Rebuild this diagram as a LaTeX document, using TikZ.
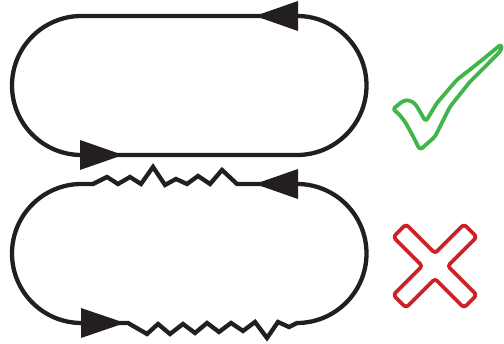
\documentclass[tikz,border=0pt]{standalone}
\usepackage{xcolor}
\usepackage{tikz}
\definecolor{ink}{RGB}{35,31,32}
\definecolor{okgreen}{RGB}{64,181,73}
\definecolor{badred}{RGB}{205,32,39}

\begin{document}
\begin{tikzpicture}[x=1pt, y=1pt,
  loopline/.style={draw=ink, line width=4.3pt, line join=miter},
  tip/.style={fill=ink},
  signline/.style={line width=3.8pt, line join=round, rounded corners=3pt}]
  \useasboundingbox (0,0) rectangle (504,344);
  % good loop
  \draw[loopline] (81.5,328) -- (297,328) arc[start angle=90, end angle=-90, radius=69.5pt]
    -- (81.5,189) arc[start angle=270, end angle=90, radius=69.5pt] -- cycle;
  \fill[tip] (255,328) -- (298,343) -- (298,313) -- cycle;
  \fill[tip] (123,189) -- (80,204) -- (80,174) -- cycle;
  % bad loop
  \draw[loopline] (81.5,160) -- (93,160) -- (107,167) -- (118,160) -- (130,167) -- (141,160)
    -- (153,177) -- (165,159) -- (176,165) -- (187,160) -- (198,168) -- (210,160)
    -- (222,174) -- (237,160) -- (297,160) arc[start angle=90, end angle=-90, radius=69.5pt]
    -- (289,17) -- (278,22) -- (267,6) -- (255,22) -- (243,13) -- (231,21) -- (219,12)
    -- (207,21) -- (195,11) -- (183,20) -- (170,10) -- (158,20) -- (147,10) -- (128,21)
    -- (81.5,21) arc[start angle=270, end angle=90, radius=69.5pt] -- cycle;
  \fill[tip] (255,160) -- (298,175) -- (298,145) -- cycle;
  \fill[tip] (125,21) -- (81,36) -- (81,6) -- cycle;
  % tick
  \draw[signline, okgreen] (392.7,234.7) -- (403.3,243.3) -- (408.3,244) -- (415,240.7) -- (420,232.3)
    -- (425.7,222.3) -- (436.7,240.7) -- (456.7,264) -- (480,282.3) -- (501.5,300)
    -- (501.5,294) -- (490,282.3) -- (470,262.3) -- (450,237.3) -- (435,207.3) -- (420,194)
    -- (413.3,207.3) -- (405,222.3) -- (398.3,230.7) -- cycle;
  % cross
  \draw[signline, badred, shift={(435,78)}, rotate=45] (9,9) -- (50,9) -- (50,-9) -- (9,-9) -- (9,-50)
    -- (-9,-50) -- (-9,-9) -- (-50,-9) -- (-50,9) -- (-9,9) -- (-9,50) -- (9,50) -- cycle;
\end{tikzpicture}
\end{document}
